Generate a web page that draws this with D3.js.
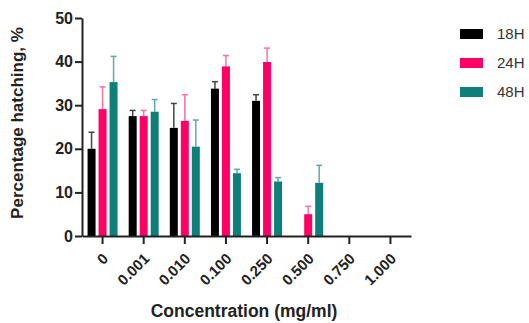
<!DOCTYPE html>
<html>
<head>
<meta charset="utf-8">
<script src="https://cdn.jsdelivr.net/npm/d3@7"></script>
<style>
  body { margin: 0; background: #fff; }
  svg { font-family: "Liberation Sans", Arial, sans-serif; }
  .axis path, .axis line { stroke: #222; stroke-width: 2; }
  .axis text { fill: #222; font-weight: bold; }
</style>
</head>
<body>
<div class="chart"></div>
<script>
	// data
	var concentrations = ['0', '0.001', '0.010', '0.100', '0.250', '0.500', '0.750', '1.000'];
	var series = ['18H', '24H', '48H'];
	var yTicks = [0, 10, 20, 30, 40, 50];

	var values18 = [20.0, 27.5, 24.8, 33.8, 31.0, 0, 0, 0];
	var errTop18 = [23.8, 28.8, 30.4, 35.4, 32.4, 0, 0, 0];
	var values24 = [29.1, 27.5, 26.4, 38.9, 39.9, 5.0, 0, 0];
	var errTop24 = [34.2, 28.8, 32.4, 41.4, 43.1, 6.8, 0, 0];
	var values48 = [35.3, 28.5, 20.5, 14.4, 12.5, 12.2, 0, 0];
	var errTop48 = [41.2, 31.3, 26.6, 15.3, 13.4, 16.2, 0, 0];

	var barColor = {'18H': '#000000', '24H': '#ff0066', '48H': '#0f7f7a'};
	var errColor = {'18H': '#444444', '24H': '#ff6fa3', '48H': '#5fa9a5'};

	var width = 529, height = 323;
	var margin = {top: 18, left: 82, right: 118, bottom: 87};

	var svg = d3.select('.chart')
		.append('svg')
		.attr('width', width)
		.attr('height', height);

	var g = svg.append('g')
		.attr('transform', 'translate(' + margin.left + ',' + margin.top + ')');

	var innerW = width - margin.left - margin.right;
	var innerH = height - margin.top - margin.bottom;

	// scales
	var x0 = d3.scaleBand()
		.domain(concentrations)
		.range([0, innerW]);

	var x1 = d3.scaleBand()
		.domain(series)
		.range([x0.bandwidth() / 2 - 15, x0.bandwidth() / 2 + 15])
		.paddingInner(3 / 11);

	var yScale = d3.scaleLinear()
		.domain([0, 50])
		.range([innerH, 0]);

	// build rows from the arrays
	var vals = {'18H': values18, '24H': values24, '48H': values48};
	var errs = {'18H': errTop18, '24H': errTop24, '48H': errTop48};
	var rows = [];
	series.forEach(function(s){
		concentrations.forEach(function(c, i){
			rows.push({conc: c, key: s, value: vals[s][i], err: errs[s][i]});
		});
	});

	// error bars (upward only)
	var withErr = rows.filter(function(d){ return d.err > d.value; });

	g.selectAll('.errline')
		.data(withErr)
		.enter().append('line')
		.attr('class', 'errline')
		.attr('x1', function(d){ return x0(d.conc) + x1(d.key) + x1.bandwidth() / 2; })
		.attr('x2', function(d){ return x0(d.conc) + x1(d.key) + x1.bandwidth() / 2; })
		.attr('y1', function(d){ return yScale(d.value); })
		.attr('y2', function(d){ return yScale(d.err); })
		.attr('stroke', function(d){ return errColor[d.key]; })
		.attr('stroke-width', 1.5);

	g.selectAll('.errcap')
		.data(withErr)
		.enter().append('line')
		.attr('class', 'errcap')
		.attr('x1', function(d){ return x0(d.conc) + x1(d.key) + x1.bandwidth() / 2 - 3; })
		.attr('x2', function(d){ return x0(d.conc) + x1(d.key) + x1.bandwidth() / 2 + 3; })
		.attr('y1', function(d){ return yScale(d.err); })
		.attr('y2', function(d){ return yScale(d.err); })
		.attr('stroke', function(d){ return errColor[d.key]; })
		.attr('stroke-width', 1.5);

	// bars
	g.selectAll('.bar')
		.data(rows)
		.enter().append('rect')
		.attr('class', 'bar')
		.attr('x', function(d){ return x0(d.conc) + x1(d.key); })
		.attr('y', function(d){ return yScale(d.value); })
		.attr('width', x1.bandwidth())
		.attr('height', function(d){ return innerH - yScale(d.value); })
		.attr('fill', function(d){ return barColor[d.key]; });

	// axes
	g.append('g')
		.attr('class', 'axis')
		.call(d3.axisLeft(yScale).tickValues(yTicks).tickSize(7).tickSizeOuter(0).tickPadding(2))
		.selectAll('text')
		.style('font-size', '16px');

	var xAxis = g.append('g')
		.attr('class', 'axis')
		.attr('transform', 'translate(0,' + innerH + ')')
		.call(d3.axisBottom(x0).tickSize(8).tickSizeOuter(0));

	xAxis.selectAll('text')
		.style('font-size', '15px')
		.attr('text-anchor', 'end')
		.attr('dy', '0.35em')
		.attr('transform', 'translate(3,20) rotate(-45)')
		.attr('y', 0)
		.attr('x', 0);

	// labels
	svg.append('text')
		.attr('transform', 'translate(23,' + (margin.top + innerH / 2 - 4) + ') rotate(-90)')
		.attr('text-anchor', 'middle')
		.style('font-size', '17px')
		.style('font-weight', 'bold')
		.attr('fill', '#222')
		.text('Percentage hatching, %');

	svg.append('text')
		.attr('x', 244)
		.attr('y', 317)
		.attr('text-anchor', 'middle')
		.style('font-size', '17.5px')
		.style('font-weight', 'bold')
		.attr('fill', '#222')
		.text('Concentration (mg/ml)');

	// legend
	var legend = svg.selectAll('.legend')
		.data(series)
		.enter().append('g')
		.attr('class', 'legend')
		.attr('transform', function(d, i){ return 'translate(460,' + (29 + i * 29) + ')'; });

	legend.append('rect')
		.attr('width', 23)
		.attr('height', 10)
		.attr('fill', function(d){ return barColor[d]; });

	legend.append('text')
		.attr('x', 37)
		.attr('y', 5)
		.attr('dy', '0.35em')
		.style('font-size', '15px')
		.attr('fill', '#333')
		.text(function(d){ return d; });
</script>
</body>
</html>
